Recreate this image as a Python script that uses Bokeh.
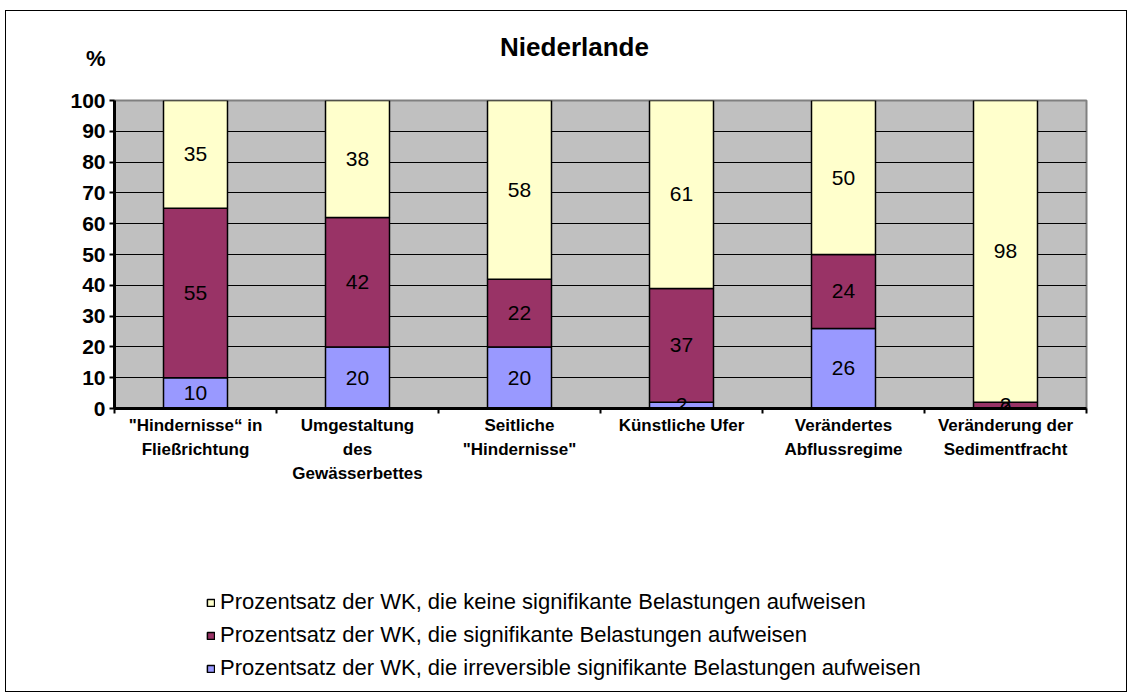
import numpy as np
from bokeh.plotting import figure
from bokeh.models import Range1d, FixedTicker, Legend, LegendItem, ColumnDataSource
from bokeh.layouts import column
from bokeh.core.properties import value
from bokeh.embed import file_html
from bokeh.resources import INLINE

categories = ['"Hindernisse“ in\nFließrichtung', "Umgestaltung\ndes\nGewässerbettes",
              'Seitliche\n"Hindernisse"', "Künstliche Ufer", "Verändertes\nAbflussregime",
              "Veränderung der\nSedimentfracht"]
irreversible = [10, 20, 20, 2, 26, 0]
significant = [55, 42, 22, 37, 24, 2]
none_ = [35, 38, 58, 61, 50, 98]
series_names = ["Prozentsatz der WK, die keine signifikante Belastungen aufweisen",
                "Prozentsatz der WK, die signifikante Belastungen aufweisen",
                "Prozentsatz der WK, die irreversible signifikante Belastungen aufweisen"]
y_ticks = list(range(0, 101, 10))
title_text = "Niederlande"
unit_text = "%"

FONT = "Liberation Sans"
YELLOW, MAROON, BLUE = "#FFFFCC", "#993366", "#9999FF"
W_FIG = 1120
BL, BR = 108, 40          # left/right borders shared by all three stacked figures
FRAME_W = W_FIG - BL - BR

# ---------- top strip: title and unit ----------
top = figure(width=W_FIG, height=79, output_backend="svg", toolbar_location=None,
             x_range=Range1d(0, FRAME_W), y_range=Range1d(79, 0),
             min_border_left=BL, min_border_right=BR, min_border_top=0, min_border_bottom=0,
             x_axis_type=None)
top.grid.visible = False
top.outline_line_color = None
top.text(x=[460], y=[35], text=[title_text], text_font=value(FONT), text_font_style="bold",
         text_font_size="26px", text_align="center", text_baseline="middle", text_color="black")
# unit label "%" shown as the single tick label of the strip's left axis
top.yaxis.ticker = FixedTicker(ticks=[47])
top.yaxis.major_label_overrides = {47: unit_text}
top.yaxis.axis_line_color = None
top.yaxis.major_tick_line_color = None
top.yaxis.minor_tick_line_color = None
top.yaxis.major_tick_out = 0
top.yaxis.major_tick_in = 0
top.yaxis.major_label_standoff = 9
top.yaxis.major_label_text_font = FONT
top.yaxis.major_label_text_font_style = "bold"
top.yaxis.major_label_text_font_size = "22px"
top.yaxis.major_label_text_color = "black"

# ---------- main chart ----------
n = len(categories)
xs = [i + 0.5 for i in range(n)]

p = figure(width=W_FIG, height=411, output_backend="svg", toolbar_location=None,
           x_range=Range1d(0, n), y_range=Range1d(0, 100),
           min_border_left=BL, min_border_right=BR, min_border_top=10, min_border_bottom=93)
p.background_fill_color = "#C0C0C0"
p.outline_line_color = "#808080"
p.outline_line_width = 2
p.xgrid.grid_line_color = None
p.ygrid.grid_line_color = "#000000"
p.ygrid.grid_line_width = 1
p.ygrid.ticker = FixedTicker(ticks=y_ticks)

b1 = [0] * n
t1 = irreversible
b2 = t1
t2 = [a + b for a, b in zip(irreversible, significant)]
b3 = t2
t3 = [a + b for a, b in zip(t2, none_)]

src = ColumnDataSource(dict(x=xs, b1=b1, t1=t1, b2=b2, t2=t2, b3=b3, t3=t3))
W = 0.395
p.vbar(x="x", bottom="b1", top="t1", width=W, source=src, fill_color=BLUE,
       line_color="black", line_width=1.5)
p.vbar(x="x", bottom="b2", top="t2", width=W, source=src, fill_color=MAROON,
       line_color="black", line_width=1.5)
p.vbar(x="x", bottom="b3", top="t3", width=W, source=src, fill_color=YELLOW,
       line_color="black", line_width=1.5)

lx, ly, lt = [], [], []
for i in range(n):
    for b, t, v in ((b1[i], t1[i], irreversible[i]), (b2[i], t2[i], significant[i]),
                    (b3[i], t3[i], none_[i])):
        lx.append(xs[i]); ly.append((b + t) / 2); lt.append(str(v))
p.text(x=lx, y=ly, text=lt, text_font=value(FONT), text_font_size="21px",
       text_align="center", text_baseline="middle", text_color="black")

p.yaxis.ticker = FixedTicker(ticks=y_ticks)
p.yaxis.axis_line_width = 3
p.yaxis.axis_line_color = "black"
p.yaxis.major_tick_out = 5
p.yaxis.major_tick_in = 0
p.yaxis.major_tick_line_width = 2
p.yaxis.minor_tick_line_color = None
p.yaxis.major_label_text_font = FONT
p.yaxis.major_label_text_font_style = "bold"
p.yaxis.major_label_text_font_size = "21px"
p.yaxis.major_label_text_color = "black"
p.yaxis.major_label_standoff = 4

p.xaxis.ticker = FixedTicker(ticks=xs, minor_ticks=list(range(n + 1)))
p.xaxis.major_label_overrides = {x: c for x, c in zip(xs, categories)}
p.xaxis.axis_line_width = 3
p.xaxis.axis_line_color = "black"
p.xaxis.major_tick_line_color = None
p.xaxis.major_tick_out = 0
p.xaxis.major_tick_in = 0
p.xaxis.minor_tick_out = 5
p.xaxis.minor_tick_in = 0
p.xaxis.minor_tick_line_width = 2
p.xaxis.minor_tick_line_color = "black"
p.xaxis.major_label_text_font = FONT
p.xaxis.major_label_text_font_style = "bold"
p.xaxis.major_label_text_font_size = "17px"
p.xaxis.major_label_text_color = "black"
p.xaxis.major_label_text_line_height = 1.28
p.xaxis.major_label_standoff = 2

# ---------- legend strip ----------
leg = figure(width=W_FIG, height=190, output_backend="svg", toolbar_location=None,
             x_range=Range1d(0, 1), y_range=Range1d(0, 1),
             min_border_left=BL, min_border_right=BR, min_border_top=0, min_border_bottom=0,
             x_axis_type=None, y_axis_type=None)
leg.grid.visible = False
leg.outline_line_color = None
rs = []
for col in (YELLOW, MAROON, BLUE):
    # one non-drawable (NaN) datum, only so the legend swatch is drawn
    rs.append(leg.vbar(x=np.array([np.nan]), bottom=np.array([np.nan]), top=np.array([np.nan]),
                       width=0.01, fill_color=col, line_color="black", line_width=1.5))
legend = Legend(items=[LegendItem(label=nm, renderers=[r]) for nm, r in zip(series_names, rs)],
                location=(92, 10), padding=0, margin=0, spacing=7,
                glyph_width=9, glyph_height=9, label_height=26, label_standoff=5,
                label_text_font=FONT, label_text_font_size="22px", label_text_color="black",
                border_line_alpha=0, background_fill_alpha=0)
leg.add_layout(legend, "center")

layout = column(top, p, leg, spacing=0)
layout.margin = (10, 0, 0, 5)
layout.styles = {"border": "1px solid black"}

open("out.html", "w").write(file_html(layout, INLINE))
